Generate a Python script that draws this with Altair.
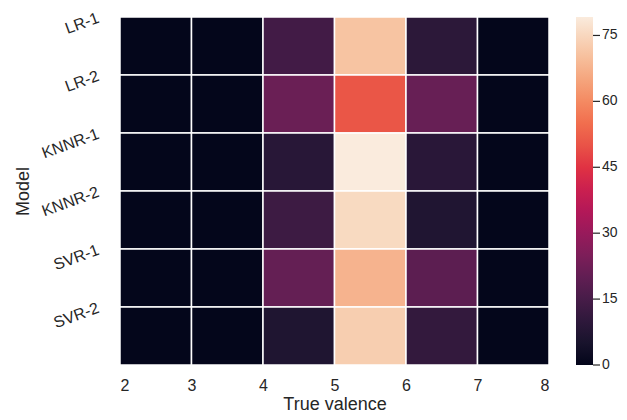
import json
import altair as alt
import pandas as pd

models = ["LR-1", "LR-2", "KNNR-1", "KNNR-2", "SVR-1", "SVR-2"]
valence_lo = [2, 3, 4, 5, 6, 7]
valence_hi = [3, 4, 5, 6, 7, 8]
lr1 = [0.2, 0.2, 14.0, 71.0, 9.5, 0.2]
lr2 = [0.2, 0.2, 21.5, 50.5, 21.0, 0.2]
knnr1 = [0.2, 0.2, 8.7, 79.2, 9.0, 0.2]
knnr2 = [0.2, 0.2, 13.0, 75.5, 7.0, 0.2]
svr1 = [0.2, 0.2, 20.5, 67.7, 19.0, 0.2]
svr2 = [0.2, 0.2, 6.7, 73.0, 11.0, 0.2]
rows = [lr1, lr2, knnr1, knnr2, svr1, svr2]
cbar_ticks = [0, 15, 30, 45, 60, 75]
x_ticks = [2, 3, 4, 5, 6, 7, 8]
rocket = ["#03051a", "#35193e", "#701f57", "#ad1759", "#e13342", "#f37651", "#f6b48f", "#faebdd"]

recs = []
for i, (m, vals) in enumerate(zip(models, rows)):
    for lo, hi, v in zip(valence_lo, valence_hi, vals):
        recs.append({"model": m, "r0": i, "r1": i + 1, "lo": lo, "hi": hi, "value": v})
df = pd.DataFrame(recs)
tick_df = pd.DataFrame({"t": cbar_ticks})

vmax = max(max(r) for r in rows)
stops = [vmax * k / (len(rocket) - 1) for k in range(len(rocket))]

font = "Liberation Sans"
txt = "#262626"

heat = alt.Chart(df).mark_rect(stroke="white", strokeWidth=1.5).encode(
    x=alt.X("lo:Q", scale=alt.Scale(domain=[2, 8], nice=False, zero=False),
            axis=alt.Axis(values=x_ticks, format="d", title="True valence",
                          labelPadding=12, titleBaseline="alphabetic", titleY=44,
                          labelAngle=0)),
    x2="hi:Q",
    y=alt.Y("r0:Q", scale=alt.Scale(domain=[0, 6], reverse=True, nice=False, zero=False),
            axis=alt.Axis(values=list(range(len(models))),
                          labelExpr=json.dumps(models) + "[datum.value]",
                          labelAngle=340, labelAlign="right", labelBaseline="middle",
                          labelOffset=0, labelPadding=22, title="Model", titlePadding=7)),
    y2="r1:Q",
    color=alt.Color("value:Q", scale=alt.Scale(domain=stops, range=rocket),
                    legend=alt.Legend(type="gradient", values=cbar_ticks, title=None,
                                      direction="vertical", orient="none",
                                      legendX=456, legendY=0, padding=0,
                                      gradientLength=348, gradientThickness=17,
                                      gradientStrokeWidth=0, labelOpacity=0,
                                      labelOffset=0, labelFontSize=1, labelFont=font)),
)

cbar_scale = alt.Scale(domain=[0, vmax], nice=False, zero=False)

cticks = alt.Chart(tick_df).mark_rule(color=txt, strokeWidth=1.2).encode(
    y=alt.Y("t:Q", scale=cbar_scale, axis=None),
    x=alt.value(473),
    x2=alt.value(480),
)

clabels = alt.Chart(tick_df).mark_text(
    align="left", baseline="middle", font=font, fontSize=14, color=txt
).encode(
    y=alt.Y("t:Q", scale=cbar_scale, axis=None),
    x=alt.value(482),
    text=alt.Text("t:Q", format="d"),
)

chart = alt.layer(heat, cticks, clabels).resolve_scale(y="independent").properties(
    width=429, height=348,
    autosize=alt.AutoSizeParams(type="none"),
    padding={"left": 112, "top": 9, "right": 70, "bottom": 47},
).configure_view(stroke=None).configure_axis(
    domain=False, ticks=False, grid=False,
    labelFont=font, labelFontSize=16, labelColor=txt,
    titleFont=font, titleFontSize=18, titleColor=txt, titleFontWeight="normal",
)

chart.save("out.html", embed_options={"renderer": "svg", "actions": False})
